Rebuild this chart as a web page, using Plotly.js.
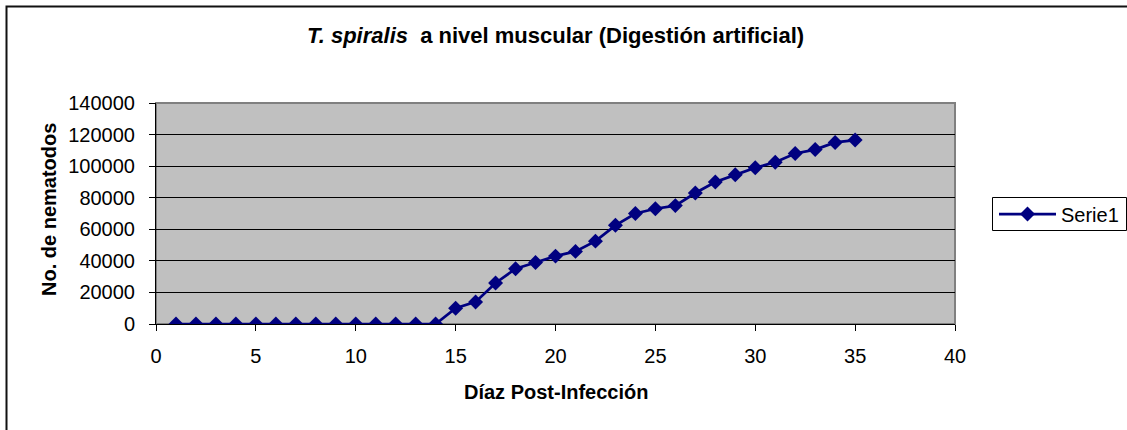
<!DOCTYPE html>
<html>
<head>
<meta charset="utf-8">
<script src="https://cdn.plot.ly/plotly-3.0.1.min.js"></script>
<style>html,body{margin:0;padding:0;background:#fff;}#chart{width:1127px;height:430px;}</style>
</head>
<body>
<div id="chart"></div>
<script>
// Data
const days = [1,2,3,4,5,6,7,8,9,10,11,12,13,14,15,16,17,18,19,20,21,22,23,24,25,26,27,28,29,30,31,32,33,34,35];
const nematodes = [0,0,0,0,0,0,0,0,0,0,0,0,0,0,10000,14000,26000,35000,39000,43000,46000,52500,62500,70000,73000,75000,83000,90000,94500,99000,102500,108000,110500,115000,116500];
const seriesName = 'Serie1';
const chartTitle = '<i>T. spiralis</i>\u00a0 a nivel muscular (Digestión artificial)';
const xTitle = 'Díaz Post-Infección';
const yTitle = 'No. de nematodos';
const xTicks = [0,5,10,15,20,25,30,35,40];
const yTicks = [0,20000,40000,60000,80000,100000,120000,140000];

const W = 1127, H = 430;
const M = {l:156, r:172, t:103, b:106};
const pw = W - M.l - M.r, ph = H - M.t - M.b;
const px2x = p => (p - M.l) / pw;
const py2y = p => (H - M.b - p) / ph;

const font = 'Liberation Sans, Arial, sans-serif';

const trace = {
  x: days, y: nematodes, name: seriesName,
  type: 'scatter', mode: 'lines+markers',
  line: {color: '#000080', width: 2.75},
  marker: {symbol: 'diamond', size: 11.5, color: '#000080'}
};

const layout = {
  width: W, height: H,
  margin: {l:M.l, r:M.r, t:M.t, b:M.b, autoexpand: false},
  paper_bgcolor: '#ffffff',
  plot_bgcolor: '#c0c0c0',
  font: {family: font, color: '#000'},
  title: {
    text: '<b>' + chartTitle + '</b>',
    font: {family: font, size: 22, color: '#000'},
    x: 0.5, xref: 'paper', xanchor: 'center',
    y: 1 - 35/H, yref: 'container', yanchor: 'middle'
  },
  xaxis: {
    range: [0, 40], tickvals: xTicks, ticktext: xTicks.map(String),
    showgrid: false, zeroline: false,
    showline: true, linecolor: '#000', linewidth: 1,
    ticks: 'outside', ticklen: 6, tickcolor: '#000', tickwidth: 1,
    ticklabelstandoff: 8,
    tickfont: {family: font, size: 20, color: '#000'},
    fixedrange: true
  },
  yaxis: {
    range: [0, 140000], tickvals: yTicks, ticktext: yTicks.map(String),
    showgrid: true, gridcolor: '#000', gridwidth: 1,
    zeroline: false,
    showline: true, linecolor: '#000', linewidth: 1,
    ticks: 'outside', ticklen: 6, tickcolor: '#000', tickwidth: 1,
    ticklabelstandoff: 10,
    tickfont: {family: font, size: 20, color: '#000'},
    fixedrange: true
  },
  annotations: [
    {text: '<b>' + xTitle + '</b>', xref: 'paper', yref: 'paper',
     x: 0.5, xanchor: 'center', y: py2y(392), yanchor: 'middle',
     showarrow: false, font: {family: font, size: 20, color: '#000'}},
    {text: '<b>' + yTitle + '</b>', xref: 'paper', yref: 'paper',
     x: px2x(49), xanchor: 'center', y: py2y(210), yanchor: 'middle',
     textangle: -90, showarrow: false, font: {family: font, size: 20, color: '#000'}}
  ],
  showlegend: true,
  legend: {
    x: px2x(994), xanchor: 'left',
    y: py2y(214), yanchor: 'middle',
    bgcolor: 'rgba(0,0,0,0)', borderwidth: 0,
    itemwidth: 57,
    font: {family: font, size: 20, color: '#000'}
  },
  shapes: [
    {type: 'rect', xref: 'paper', yref: 'paper', x0: 0, x1: 1, y0: 0, y1: 1,
     line: {color: '#808080', width: 2}, layer: 'below'},
    {type: 'rect', xref: 'paper', yref: 'paper',
     x0: px2x(992.5), x1: px2x(1126.5), y0: py2y(230.5), y1: py2y(197.5),
     line: {color: '#000', width: 1}, fillcolor: '#ffffff', layer: 'below'},
    {type: 'path', xref: 'paper', yref: 'paper',
     path: 'M ' + px2x(6.5) + ' ' + py2y(440) + ' L ' + px2x(6.5) + ' ' + py2y(6.5) + ' L ' + px2x(1140) + ' ' + py2y(6.5),
     line: {color: '#111', width: 2}}
  ]
};

Plotly.newPlot('chart', [trace], layout, {staticPlot: true, displayModeBar: false});
</script>
</body>
</html>
